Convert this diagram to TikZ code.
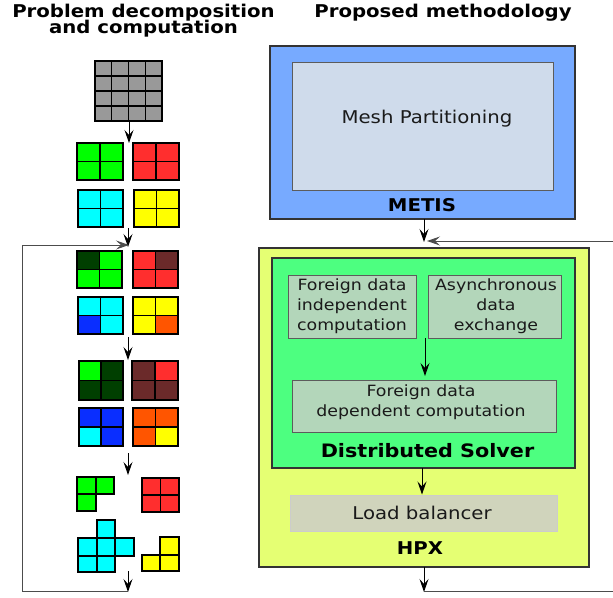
\documentclass[tikz,border=0pt]{standalone}
\usepackage{fontspec}
\setmainfont{DejaVu Sans}[FakeStretch=1.12]
\usetikzlibrary{arrows.meta}
\definecolor{cgray}{HTML}{999999}
\definecolor{cgreen}{HTML}{00FF00}
\definecolor{cdgreen}{HTML}{003F00}
\definecolor{cred}{HTML}{FF2E2E}
\definecolor{cbrown}{HTML}{6B2A2A}
\definecolor{ccyan}{HTML}{00FFFF}
\definecolor{cblue}{HTML}{0A2EFF}
\definecolor{cyellow}{HTML}{FFFF00}
\definecolor{corange}{HTML}{FF5500}
\definecolor{metisfill}{HTML}{77AAFF}
\definecolor{meshfill}{HTML}{CFDBEB}
\definecolor{hpxfill}{HTML}{E5FF73}
\definecolor{dsfill}{HTML}{4DFF80}
\definecolor{subfill}{HTML}{B3D6BA}
\definecolor{lbfill}{HTML}{D0D4BC}
\definecolor{edge}{HTML}{333333}
\definecolor{txt}{HTML}{1A1A1A}
\newcommand\blk[8]{%
  \draw[cl,fill=#5] (#1,#2) rectangle ({(#1+#3)/2},{(#2+#4)/2});
  \draw[cl,fill=#6] ({(#1+#3)/2},#2) rectangle (#3,{(#2+#4)/2});
  \draw[cl,fill=#7] (#1,{(#2+#4)/2}) rectangle ({(#1+#3)/2},#4);
  \draw[cl,fill=#8] ({(#1+#3)/2},{(#2+#4)/2}) rectangle (#3,#4);}
\newcommand\cel[5]{\draw[cl,fill=#5] (#1,#2) rectangle (#3,#4);}
\tikzset{
  tipx/.tip={Stealth[length=13pt,width=9pt,inset=5pt]},
  cl/.style={draw=black,line width=1.6pt},
  arr/.style={-tipx,line width=1pt,black},
  loopline/.style={line width=1pt,draw=gray!60!black},
  box/.style={draw=edge,line width=1.2pt,inner sep=0pt,outer sep=0pt},
  big/.style={font=\fontsize{17.6}{20}\selectfont,text=txt,anchor=base,inner sep=0pt},
  small/.style={font=\fontsize{15.5}{20}\selectfont,text=txt,align=center,inner sep=0pt},
  bold/.style={font=\fontsize{17.6}{20}\selectfont\bfseries,text=black,anchor=base,inner sep=0pt}
}
\begin{document}
\begin{tikzpicture}[x=1pt,y=-1pt]
\useasboundingbox[fill=white] (0,0) rectangle (613,597);
% titles
\node[bold] (t1) at (143.5,17) {Problem decomposition};
\node[bold] (t2) at (143.5,33) {and computation};
\node[bold] (t3) at (443,17) {Proposed methodology};

% ---------- left column ----------
\foreach \i in {0,1,2,3}{\foreach \j in {0,1,2,3}{
  \draw[draw=black,line width=1.1pt,fill=cgray] ({95+\i*16.75},{61+\j*15}) rectangle ({95+(\i+1)*16.75},{61+(\j+1)*15});}}
\coordinate (g0) at (129,121);
\coordinate (r1) at (129,143);
\blk{77}{143}{123}{180}{cgreen}{cgreen}{cgreen}{cgreen}
\blk{133}{143}{179}{180}{cred}{cred}{cred}{cred}
\blk{78}{190}{123}{227}{ccyan}{ccyan}{ccyan}{ccyan}
\blk{134}{190}{179}{227}{cyellow}{cyellow}{cyellow}{cyellow}
\coordinate (r1b) at (128,228);
\coordinate (r2) at (128,247);
\blk{77}{251}{122}{288}{cdgreen}{cgreen}{cgreen}{cgreen}
\blk{133}{251}{178}{288}{cred}{cbrown}{cred}{cred}
\blk{78}{297}{123}{334}{ccyan}{ccyan}{cblue}{ccyan}
\blk{133}{297}{178}{334}{cyellow}{cyellow}{cyellow}{corange}
\coordinate (r2b) at (128,337);
\coordinate (r3) at (128,360);
\blk{79}{361}{123}{400}{cgreen}{cdgreen}{cdgreen}{cdgreen}
\blk{132}{361}{178}{400}{cbrown}{cred}{cbrown}{cbrown}
\blk{79}{408}{123}{446}{cblue}{cblue}{ccyan}{cblue}
\blk{133}{408}{178}{446}{corange}{corange}{corange}{cyellow}
\coordinate (r3b) at (128,453);
\coordinate (r4) at (128,475);
\cel{77}{477}{96}{494}{cgreen}
\cel{96}{477}{114}{494}{cgreen}
\cel{77}{494}{96}{511}{cgreen}
\blk{142}{478}{179}{512}{cred}{cred}{cred}{cred}
\cel{97}{520}{115}{538}{ccyan}
\cel{78}{538}{97}{556}{ccyan}
\cel{97}{538}{115}{556}{ccyan}
\cel{115}{538}{134}{556}{ccyan}
\cel{78}{556}{97}{572}{ccyan}
\cel{97}{556}{115}{572}{ccyan}
\cel{160}{537}{179}{555}{cyellow}
\cel{142}{555}{160}{571}{cyellow}
\cel{160}{555}{179}{571}{cyellow}
\coordinate (r4b) at (128,571);
\coordinate (endl) at (128,592);
\coordinate (lc1) at (22,591);
\coordinate (lc2) at (22,245);
\coordinate (lin) at (129,245);

\draw[arr] (g0) -- (r1);
\draw[arr] (r1b) -- (r2);
\draw[arr] (r2b) -- (r3);
\draw[arr] (r3b) -- (r4);
\draw[arr] (r4b) -- (endl);
\draw[loopline] (endl |- lc1) -- (lc1) -- (lc2);
\draw[loopline,-tipx] (lc2) -- (lin);

% ---------- right column ----------
\node[box,fill=metisfill,minimum width=305pt,minimum height=173pt] (metis) at (422.5,132.5) {};
\node[box,draw=edge!80,line width=0.8pt,fill=meshfill,minimum width=261pt,minimum height=128pt] (mesh) at (422.5,126) {};
\node[big] (meshtxt) at (427,123) {Mesh Partitioning};
\node[bold] (metistxt) at (422,211) {METIS};

\node[box,fill=hpxfill,minimum width=330pt,minimum height=319pt] (hpx) at (424,407.5) {};
\node[box,fill=dsfill,minimum width=303pt,minimum height=210pt] (ds) at (423.5,363) {};
\node[box,draw=edge!80,line width=0.8pt,fill=subfill,minimum width=128pt,minimum height=63pt] (fdi) at (352,306.5) {};
\node[small] at (fdi.center) {Foreign data\\independent\\computation};
\node[box,draw=edge!80,line width=0.8pt,fill=subfill,minimum width=133pt,minimum height=63pt] (ade) at (494.5,306.5) {};
\node[small] at (496,306.5) {Asynchronous\\data\\exchange};
\node[box,draw=edge!80,line width=0.8pt,fill=subfill,minimum width=264pt,minimum height=52pt] (fdd) at (424,406) {};
\node[small] at (421,402) {Foreign data\\dependent computation};
\node[bold,font=\fontsize{18.5}{20}\selectfont\bfseries] (dstxt) at (427.5,457) {Distributed Solver};
\node[box,draw=gray!40,line width=0.6pt,fill=lbfill,minimum width=267pt,minimum height=36pt] (lb) at (423.5,513) {};
\node[big] (lbtxt) at (422,519) {Load balancer};
\node[bold] (hpxtxt) at (420,554) {HPX};

\coordinate (jin) at (424,242);
\coordinate (rin) at (613,241);
\coordinate (jout) at (424,592);
\coordinate (rout) at (613,591);
\draw[arr] (metis.south -| jin) -- (jin);
\draw[loopline,-tipx] (rin) -- (427,241);
\draw[arr] (425,338) -- (425,376);
\draw[arr] (ds.south -| 422,0) -- (422,494.5);
\draw[arr] (hpx.south -| jout) -- (jout);
\draw[loopline] (424,591) -- (rout);
\end{tikzpicture}
\end{document}
